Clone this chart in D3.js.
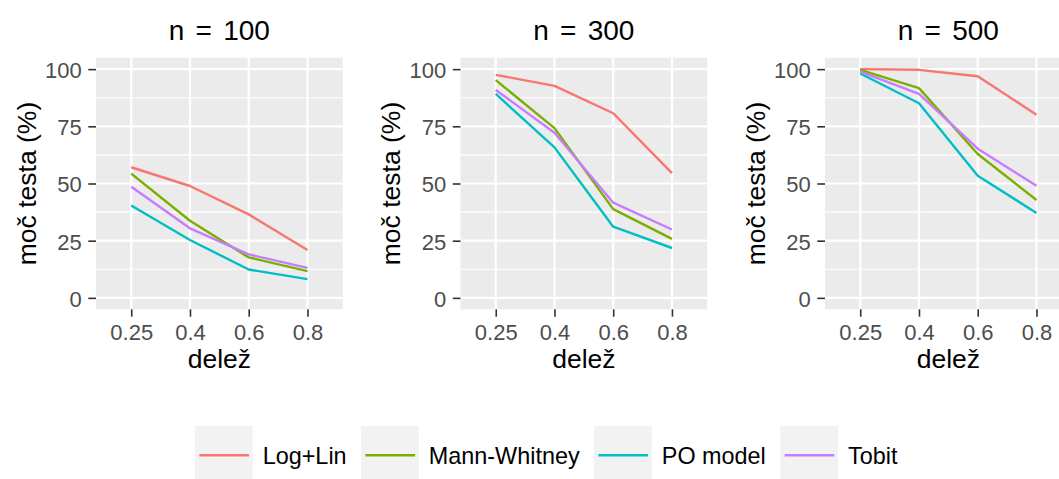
<!DOCTYPE html>
<html>
<head>
<meta charset="utf-8">
<script src="https://cdn.jsdelivr.net/npm/d3@7"></script>
<style>
  body { margin: 0; background: #fff; }
  text { font-family: "Liberation Sans", Arial, sans-serif; }
</style>
</head>
<body>
<div id="chart"></div>
<script>
// x categories (delež) and panels (n)
var shares = ["0.25", "0.4", "0.6", "0.8"];
var sampleSizes = [100, 300, 500];
var methods = ["Log+Lin", "Mann-Whitney", "PO model", "Tobit"];
var colors = ["#F8766D", "#7CAE00", "#00BFC4", "#C77CFF"];
var yTicks = [0, 25, 50, 75, 100];
var yMinor = [12.5, 37.5, 62.5, 87.5];

// power (%) per method, one row per sample size
var logLin = [
  [57.1, 48.9, 36.5, 20.9],
  [97.5, 92.7, 80.7, 54.5],
  [100, 99.7, 96.9, 80.1]
];
var mannWhitney = [
  [54.3, 33.7, 17.7, 11.7],
  [95.2, 74.2, 38.8, 25.8],
  [99.7, 91.7, 62.9, 42.8]
];
var poModel = [
  [40.4, 25.3, 12.4, 8.2],
  [89.2, 65.8, 31.1, 21.8],
  [98.1, 85.1, 53.4, 37.1]
];
var tobit = [
  [48.6, 30.4, 19.0, 13.1],
  [90.9, 72.2, 41.6, 29.9],
  [98.9, 89.2, 65.2, 49.0]
];
var seriesValues = [logLin, mannWhitney, poModel, tobit];

var w = 1059;
var h = 479;
var panelLeft = 96;
var panelStep = 364.5;
var panelW = 246.7;
var panelTop = 57.7;
var panelBottom = 309.3;

var svg = d3
  .select("#chart")
  .append("svg")
  .attr("width", w)
  .attr("height", h)
  .style("display", "block");

svg.append("rect").attr("width", w).attr("height", h).attr("fill", "#fff");

var yScale = d3
  .scaleLinear()
  .domain([-5, 105])
  .range([panelBottom, panelTop]);

sampleSizes.forEach(function (n, p) {
  var x0 = panelLeft + p * panelStep;
  var xScale = d3
    .scalePoint()
    .domain(shares)
    .range([x0, x0 + panelW])
    .padding(0.6);

  var g = svg.append("g");

  // panel background
  g.append("rect")
    .attr("x", x0)
    .attr("y", panelTop)
    .attr("width", panelW)
    .attr("height", panelBottom - panelTop)
    .attr("fill", "#EBEBEB");

  // minor grid
  g.selectAll(".minor")
    .data(yMinor)
    .enter()
    .append("line")
    .attr("x1", x0)
    .attr("x2", x0 + panelW)
    .attr("y1", function (d) { return yScale(d); })
    .attr("y2", function (d) { return yScale(d); })
    .attr("stroke", "#fff")
    .attr("stroke-width", 1.1);

  // major grid
  g.selectAll(".majorY")
    .data(yTicks)
    .enter()
    .append("line")
    .attr("x1", x0)
    .attr("x2", x0 + panelW)
    .attr("y1", function (d) { return yScale(d); })
    .attr("y2", function (d) { return yScale(d); })
    .attr("stroke", "#fff")
    .attr("stroke-width", 2.2);

  g.selectAll(".majorX")
    .data(shares)
    .enter()
    .append("line")
    .attr("x1", function (d) { return xScale(d); })
    .attr("x2", function (d) { return xScale(d); })
    .attr("y1", panelTop)
    .attr("y2", panelBottom)
    .attr("stroke", "#fff")
    .attr("stroke-width", 2.2);

  // lines
  var line = d3
    .line()
    .x(function (d, i) { return xScale(shares[i]); })
    .y(function (d) { return yScale(d); });

  methods.forEach(function (m, k) {
    g.append("path")
      .datum(seriesValues[k][p])
      .attr("d", line)
      .attr("fill", "none")
      .attr("stroke", colors[k])
      .attr("stroke-width", 2.4)
      .attr("stroke-linejoin", "round");
  });

  // y axis
  var yAxis = d3.axisLeft(yScale).tickValues(yTicks).tickSize(7.7).tickPadding(6.5);
  var ya = g.append("g")
    .attr("transform", "translate(" + x0 + ",0)")
    .call(yAxis);
  ya.select(".domain").remove();
  ya.selectAll("line").attr("stroke", "#333").attr("stroke-width", 1.6);
  ya.selectAll("text")
    .attr("fill", "#4D4D4D")
    .style("font-size", "22px")
    .style("font-family", "Liberation Sans, Arial, sans-serif")
    .attr("dy", "0.38em");

  // x axis
  var xAxis = d3.axisBottom(xScale).tickSize(7.4).tickPadding(6);
  var xa = g.append("g")
    .attr("transform", "translate(0," + panelBottom + ")")
    .call(xAxis);
  xa.select(".domain").remove();
  xa.selectAll("line").attr("stroke", "#333").attr("stroke-width", 1.6);
  xa.selectAll("text")
    .attr("fill", "#4D4D4D")
    .style("font-size", "22px")
    .style("font-family", "Liberation Sans, Arial, sans-serif")
    .attr("y", 0)
    .attr("dy", 0)
    .attr("transform", "translate(0,30.7)");

  var cx = x0 + panelW / 2;

  // panel title
  g.append("text")
    .attr("x", cx)
    .attr("y", 39.5)
    .attr("text-anchor", "middle")
    .style("font-size", "28px")
    .style("word-spacing", "3.5px")
    .attr("fill", "#000")
    .text("n = " + n);

  // axis titles
  g.append("text")
    .attr("x", cx)
    .attr("y", 368)
    .attr("text-anchor", "middle")
    .style("font-size", "26.5px")
    .attr("fill", "#000")
    .text("delež");

  g.append("text")
    .attr("transform", "translate(" + (x0 - 60.5) + "," + (panelTop + panelBottom) / 2 + ") rotate(-90)")
    .attr("text-anchor", "middle")
    .style("font-size", "26.5px")
    .attr("fill", "#000")
    .text("moč testa (%)");
});

// legend
var legend = svg.append("g");
var lx = 195;
methods.forEach(function (m, k) {
  var item = legend.append("g").attr("transform", "translate(" + lx + ",0)");
  item.append("rect")
    .attr("x", 0)
    .attr("y", 426)
    .attr("width", 57.7)
    .attr("height", 58.6)
    .attr("fill", "#F2F2F2");
  item.append("line")
    .attr("x1", 4.3)
    .attr("x2", 54)
    .attr("y1", 455.3)
    .attr("y2", 455.3)
    .attr("stroke", colors[k])
    .attr("stroke-width", 2.4);
  var t = item.append("text")
    .attr("x", 67.7)
    .attr("y", 464.3)
    .style("font-size", "23.4px")
    .attr("fill", "#000")
    .text(m);
  lx += 67.7 + t.node().getComputedTextLength() + 14.5;
});
</script>
</body>
</html>
